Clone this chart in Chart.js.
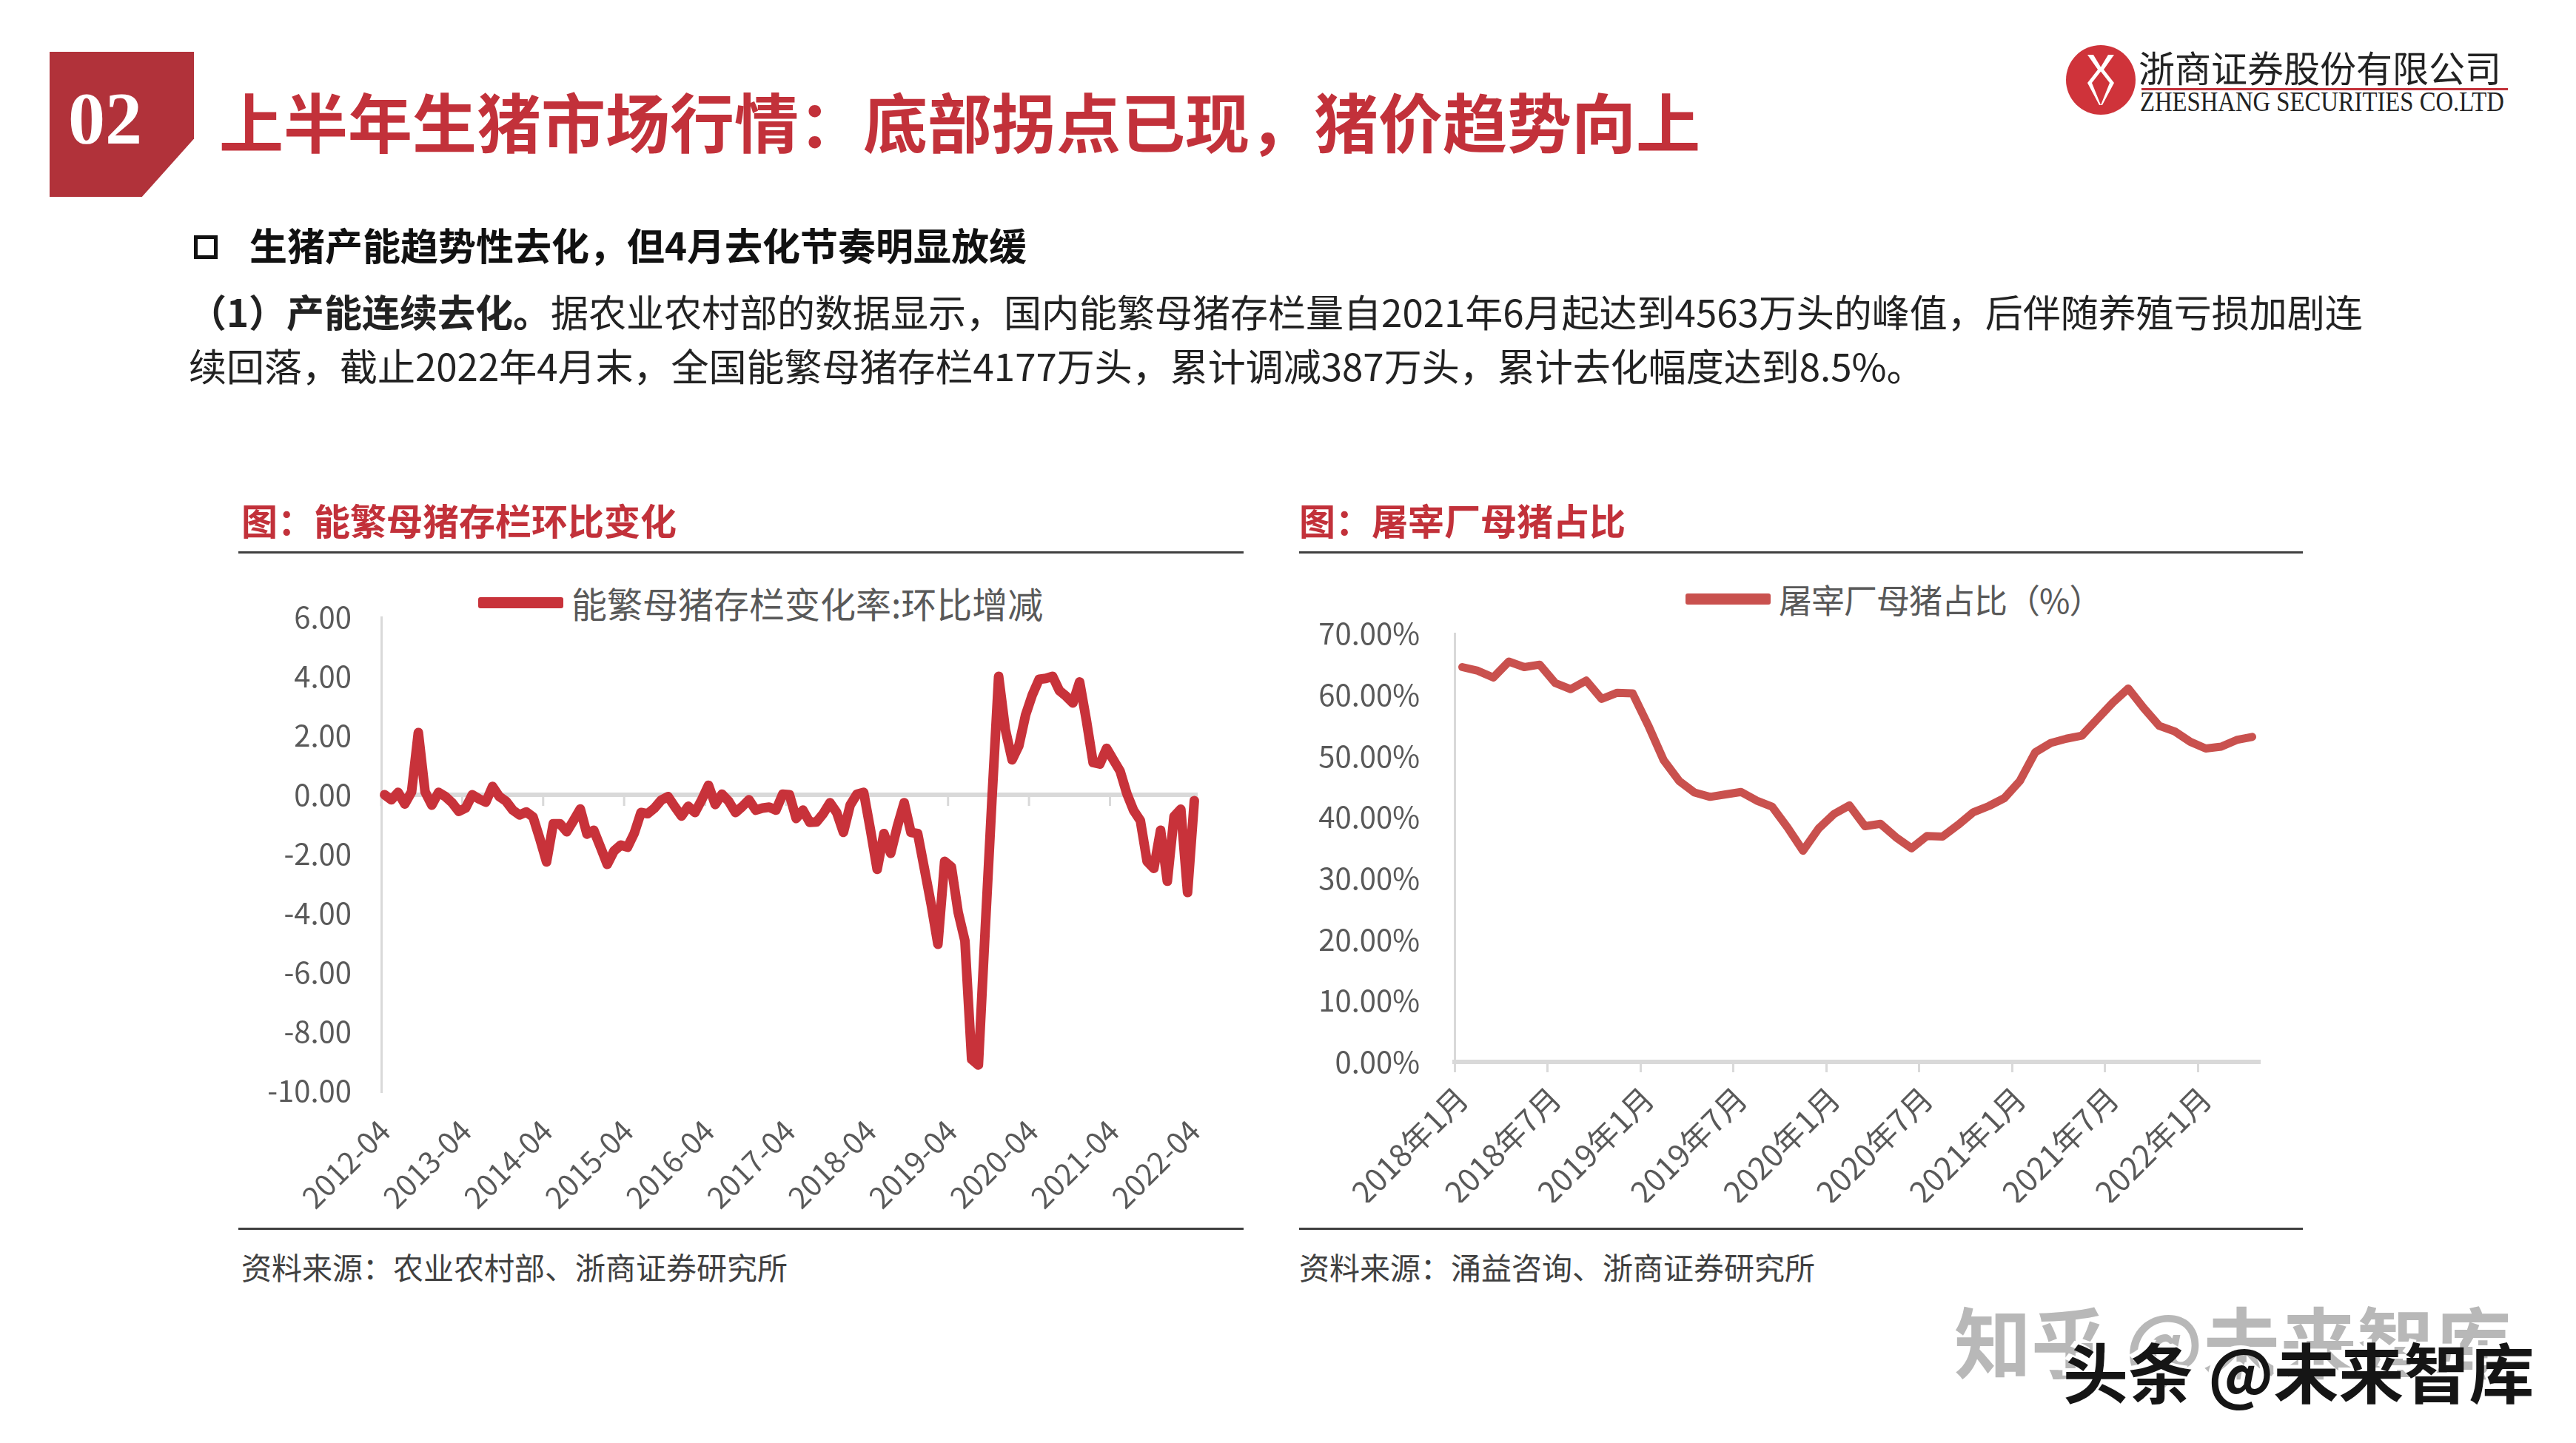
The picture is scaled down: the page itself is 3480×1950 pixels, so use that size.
<!DOCTYPE html>
<html lang="zh-CN">
<head>
<meta charset="UTF-8">
<title>上半年生猪市场行情</title>
<script src="https://cdn.jsdelivr.net/npm/chart.js"></script>
<style>
  html, body { margin: 0; padding: 0; background: #fff; }
  body { width: 3480px; height: 1950px; position: relative; overflow: hidden;
         font-family: 'Noto Sans CJK SC', 'Noto Sans', sans-serif; color: #222; }
  .abs { position: absolute; white-space: nowrap; }
  #badge { left: 67px; top: 70px; width: 195px; height: 196px; background: #b1323a;
           clip-path: polygon(0 0, 100% 0, 100% 60%, 64% 100%, 0 100%); }
  #badge span { position: absolute; left: 25px; top: 30px; font: bold 100px/120px 'Liberation Serif', serif; color: #fff; }
  #title { left: 296px; top: 110px; font-size: 87px; line-height: 104px; font-weight: 700; color: #c2313a; }
  #sub { left: 337px; top: 300px; font-size: 51px; line-height: 60px; font-weight: 700; color: #111; }
  #box { left: 262px; top: 318px; width: 22px; height: 22px; border: 5px solid #111; }
  .para { left: 255px; font-size: 51px; line-height: 74px; color: #222; }
  .ctitle { top: 672px; font-size: 49px; line-height: 60px; font-weight: 700; color: #c2313a; }
  .rule { height: 3px; background: #404040; }
  .src { top: 1686px; font-size: 41px; line-height: 50px; color: #404040; }
  canvas { position: absolute; }
  .legend { display: flex; align-items: center; height: 60px; color: #595959; }
  .legend i { display: block; width: 115px; height: 15px; margin-right: 11px; border-radius: 3px; }
  #leftLegend { font-size: 48px; }
  #rightLegend { font-size: 45px; letter-spacing: -1px; }
  #cname { left: 2889px; top: 60px; font-size: 49px; line-height: 60px; color: #222; }
  #ename { left: 2891px; top: 115px; font: 38px/44px 'Liberation Serif', serif; color: #222;
           transform: scaleX(0.86); transform-origin: left center; }
  #wm1 { left: 2640px; top: 1748px; font-size: 104px; line-height: 124px; font-weight: 700; color: #b8b8b8; }
  #wm2 { left: 2787px; top: 1796px; font-size: 88px; line-height: 110px; font-weight: 700; color: #151515;
         text-shadow: -5px -5px 0 #fff; }
</style>
</head>
<body>

<div id="badge" class="abs"><span>02</span></div>
<div id="title" class="abs">上半年生猪市场行情：底部拐点已现，猪价趋势向上</div>

<svg class="abs" style="left:2790px;top:60px" width="96" height="96" viewBox="0 0 96 96">
  <circle cx="48" cy="48" r="47" fill="#cf333a"/>
  <path d="M30 14 L44 34 L30 52 L46 82 L48 82 L36 52 L50 34 L38 14 Z" fill="#fff"/>
  <path d="M66 14 L52 34 L66 52 L50 82 L48 82 L60 52 L46 34 L58 14 Z" fill="#fff"/>
</svg>
<div id="cname" class="abs">浙商证券股份有限公司</div>
<div class="abs" style="left:2893px;top:119px;width:495px;height:3px;background:#c2313a"></div>
<div id="ename" class="abs">ZHESHANG SECURITIES CO.LTD</div>

<div id="box" class="abs"></div>
<div id="sub" class="abs">生猪产能趋势性去化，但4月去化节奏明显放缓</div>
<div class="abs para" style="top:383px"><b>（1）产能连续去化。</b>据农业农村部的数据显示，国内能繁母猪存栏量自2021年6月起达到4563万头的峰值，后伴随养殖亏损加剧连</div>
<div class="abs para" style="top:456px">续回落，截止2022年4月末，全国能繁母猪存栏4177万头，累计调减387万头，累计去化幅度达到8.5%。</div>

<div class="abs ctitle" style="left:326px">图：能繁母猪存栏环比变化</div>
<div class="abs rule" style="left:322px;top:745px;width:1358px"></div>
<div class="abs rule" style="left:322px;top:1659px;width:1358px"></div>
<div class="abs src" style="left:326px">资料来源：农业农村部、浙商证券研究所</div>

<div class="abs ctitle" style="left:1755px">图：屠宰厂母猪占比</div>
<div class="abs rule" style="left:1755px;top:745px;width:1356px"></div>
<div class="abs rule" style="left:1755px;top:1659px;width:1356px"></div>
<div class="abs src" style="left:1755px">资料来源：涌益咨询、浙商证券研究所</div>

<div id="leftLegend" class="abs legend" style="left:646px;top:784px"></div>
<div id="rightLegend" class="abs legend" style="left:2277px;top:779px"></div>
<canvas id="leftChart" width="1380" height="890" style="left:300px;top:764px"></canvas>
<canvas id="rightChart" width="1370" height="839" style="left:1740px;top:786px"></canvas>

<div id="wm1" class="abs">知乎 @未来智库</div>
<div id="wm2" class="abs">头条 @未来智库</div>

<script>
  // 能繁母猪存栏变化率:环比增减, monthly 2012-04 .. 2022-04
  const sowChange = [
    0.0, -0.17, 0.08, -0.31, 0.1, 2.1, 0.1, -0.35, 0.08, -0.06,
    -0.27, -0.56, -0.45, 0.0, -0.14, -0.25, 0.28, -0.06, -0.22, -0.52,
    -0.68, -0.58, -0.75, -1.48, -2.27, -0.98, -0.98, -1.25, -0.87, -0.48,
    -1.33, -1.2, -1.77, -2.35, -1.9, -1.7, -1.77, -1.3, -0.6, -0.64,
    -0.45, -0.18, -0.06, -0.4, -0.72, -0.39, -0.6, -0.17, 0.32, -0.33,
    0.02, -0.22, -0.6, -0.4, -0.17, -0.52, -0.45, -0.42, -0.52, 0.02,
    0.0, -0.8, -0.52, -0.93, -0.92, -0.64, -0.27, -0.6, -1.27, -0.35,
    0.02, 0.08, -1.18, -2.52, -1.31, -1.98, -1.06, -0.27, -1.27, -1.31,
    -2.5, -3.7, -5.05, -2.25, -2.44, -3.97, -4.93, -8.94, -9.13, -4.6,
    -0.2, 4.0, 2.2, 1.18, 1.66, 2.7, 3.38, 3.9, 3.93, 4.0,
    3.52, 3.33, 3.1, 3.81, 2.52, 1.09, 1.04, 1.57, 1.18, 0.8,
    0.04, -0.53, -0.87, -2.25, -2.49, -1.2, -2.92, -0.73, -0.49, -3.3,
    -0.2
  ];
  // 屠宰厂母猪占比 (%), monthly 2018-01 .. 2022-04
  const slaughterShare = [
    64.5, 63.9, 62.8, 65.4, 64.5, 64.9, 61.9, 60.9, 62.3, 59.3,
    60.3, 60.2, 55.0, 49.3, 45.9, 44.0, 43.3, 43.7, 44.1, 42.7,
    41.7, 38.3, 34.5, 38.1, 40.5, 41.9, 38.5, 38.9, 36.7, 34.9,
    36.9, 36.8, 38.7, 40.8, 41.8, 43.1, 45.9, 50.6, 52.1, 52.8,
    53.3, 56.0, 58.7, 61.0, 57.8, 54.9, 54.0, 52.3, 51.2, 51.5,
    52.6, 53.1
  ];

  // month categories
  function months(y, m, n, fmt) {
    const out = [];
    for (let k = 0; k < n; k++) {
      const mm = m - 1 + k;
      out.push(fmt(y + Math.floor(mm / 12), (mm % 12) + 1));
    }
    return out;
  }
  const leftLabels = months(2012, 4, sowChange.length, (y, m) => y + '-' + String(m).padStart(2, '0'));
  const rightLabels = months(2018, 1, slaughterShare.length, (y, m) => y + '年' + m + '月');
  const leftEvery = 12, rightEvery = 6;

  Chart.defaults.font.family = "'Noto Sans CJK SC', 'Noto Sans', sans-serif";
  Chart.defaults.color = '#595959';
  Chart.defaults.animation = false;

  // html legend built from the chart's own legend items
  const htmlLegend = {
    id: 'htmlLegend',
    afterUpdate(chart, args, opts) {
      const box = document.getElementById(opts.containerID);
      box.innerHTML = '';
      chart.options.plugins.legend.labels.generateLabels(chart).forEach(item => {
        const sw = document.createElement('i');
        sw.style.background = item.strokeStyle;
        const tx = document.createElement('span');
        tx.textContent = item.text;
        box.append(sw, tx);
      });
    }
  };

  // small tick marks hanging under the zero line (left chart)
  const zeroTicks = {
    id: 'zeroTicks',
    beforeDatasetsDraw(chart) {
      const { ctx, scales: { x, y } } = chart;
      const y0 = y.getPixelForValue(0);
      const half = (x.getPixelForValue(1) - x.getPixelForValue(0)) / 2;
      ctx.save();
      ctx.strokeStyle = '#d9d9d9';
      ctx.lineWidth = 3;
      for (let i = 0; i <= leftLabels.length; i += leftEvery) {
        const px = x.getPixelForValue(i) - half;
        ctx.beginPath();
        ctx.moveTo(px, y0);
        ctx.lineTo(px, y0 + 15);
        ctx.stroke();
      }
      ctx.restore();
    }
  };

  new Chart(document.getElementById('leftChart'), {
    type: 'line',
    data: {
      labels: leftLabels,
      datasets: [{
        label: '能繁母猪存栏变化率:环比增减',
        data: sowChange,
        borderColor: '#c8323a',
        backgroundColor: '#c8323a',
        borderWidth: 13,
        pointRadius: 0,
        tension: 0,
        borderJoinStyle: 'round',
        borderCapStyle: 'round'
      }]
    },
    options: {
      responsive: false,
      devicePixelRatio: 1,
      layout: { padding: { left: 0, right: 62, top: 70, bottom: 0 } },
      plugins: {
        legend: { display: false },
        tooltip: { enabled: false },
        htmlLegend: { containerID: 'leftLegend' }
      },
      scales: {
        x: {
          type: 'category',
          offset: true,
          grid: { display: false },
          border: { display: false },
          ticks: {
            autoSkip: false,
            minRotation: 45,
            maxRotation: 45,
            padding: 22,
            font: { size: 40 },
            color: '#595959',
            callback: (v, i) => (i % leftEvery === 0 ? leftLabels[i] : '')
          },
          afterFit: (s) => { s.height = 180; }
        },
        y: {
          min: -10,
          max: 6,
          ticks: { stepSize: 2, padding: 40, font: { size: 40 }, color: '#595959',
                   callback: (v) => v.toFixed(2) },
          grid: {
            drawTicks: false,
            lineWidth: 6,
            color: (c) => (c.tick && c.tick.value === 0 ? '#d9d9d9' : 'rgba(0,0,0,0)')
          },
          border: { display: true, color: '#d9d9d9', width: 3 },
          afterFit: (s) => { s.width = 215; }
        }
      }
    },
    plugins: [htmlLegend, zeroTicks]
  });

  new Chart(document.getElementById('rightChart'), {
    type: 'line',
    data: {
      labels: rightLabels,
      datasets: [{
        label: '屠宰厂母猪占比（%）',
        data: slaughterShare,
        borderColor: '#c9514e',
        backgroundColor: '#c9514e',
        borderWidth: 11,
        pointRadius: 0,
        tension: 0,
        borderJoinStyle: 'round',
        borderCapStyle: 'round'
      }]
    },
    options: {
      responsive: false,
      devicePixelRatio: 1,
      layout: { padding: { left: 0, right: 57, top: 70, bottom: 0 } },
      plugins: {
        legend: { display: false },
        tooltip: { enabled: false },
        htmlLegend: { containerID: 'rightLegend' }
      },
      scales: {
        x: {
          type: 'category',
          offset: true,
          grid: {
            offset: true,
            drawOnChartArea: false,
            drawTicks: true,
            tickLength: 14,
            tickWidth: 3,
            tickColor: (c) => (c.index % rightEvery === 0 ? '#d9d9d9' : 'rgba(0,0,0,0)')
          },
          border: { display: true, color: '#d9d9d9', width: 6 },
          ticks: {
            autoSkip: false,
            minRotation: 45,
            maxRotation: 45,
            padding: 10,
            font: { size: 42 },
            color: '#595959',
            callback: (v, i) => (i % rightEvery === 0 ? rightLabels[i] : '')
          },
          afterFit: (s) => { s.height = 190; }
        },
        y: {
          min: 0,
          max: 70,
          ticks: { stepSize: 10, padding: 39, font: { size: 40 }, color: '#595959',
                   callback: (v) => v.toFixed(2) + '%' },
          grid: { display: false },
          border: { display: true, color: '#d9d9d9', width: 3 },
          afterFit: (s) => { s.width = 225; }
        }
      }
    },
    plugins: [htmlLegend]
  });
</script>
</body>
</html>
